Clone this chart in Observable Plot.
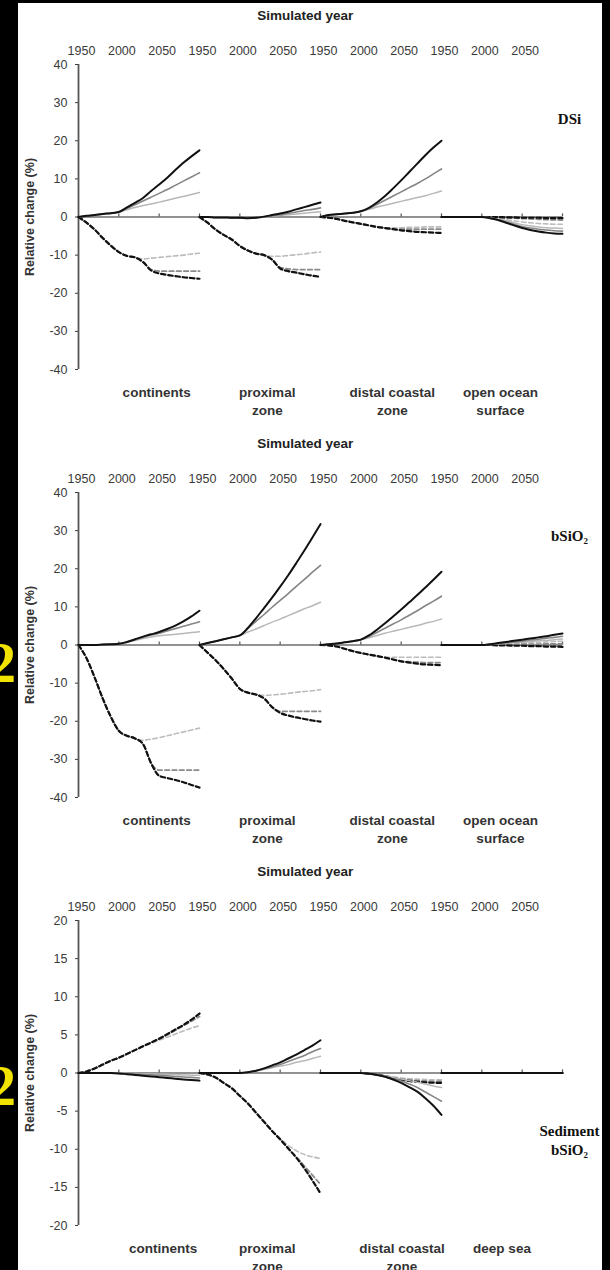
<!DOCTYPE html>
<html>
<head>
<meta charset="utf-8">
<script src="https://cdn.jsdelivr.net/npm/d3@7"></script>
<script src="https://cdn.jsdelivr.net/npm/@observablehq/plot@0.6"></script>
<style>
  html, body { margin: 0; padding: 0; background: #000; }
  body { position: relative; width: 610px; height: 1270px; overflow: hidden; font-family: "Liberation Sans", Arial, sans-serif; }
  #sheet { position: absolute; left: 18px; top: 3px; width: 584px; height: 1267px; background: #fff; }
  .panel { position: absolute; left: 0; width: 610px; }
  .edge { position: absolute; color: #f2e200; font: bold 56px/56px "Liberation Serif", serif; }
</style>
</head>
<body>
<div id="sheet"></div>
<div class="edge" style="left:-12px; top:635px">2</div>
<div class="edge" style="left:-12px; top:1058px">2</div>
<div class="panel" id="p1" style="top:0px"></div>
<div class="panel" id="p2" style="top:428px"></div>
<div class="panel" id="p3" style="top:856px"></div>
<script>
// Simulated years (one value per decade)
const years = [1950, 1960, 1970, 1980, 1990, 2000, 2010, 2020, 2030, 2040, 2050, 2060, 2070, 2080, 2090, 2100];
const yearTicks = [1950, 2000, 2050];

// Reservoir compartments
const waterZones = ["continents", "proximal zone", "distal coastal zone", "open ocean surface"];
const sedimentZones = ["continents", "proximal zone", "distal coastal zone", "deep sea"];
const waterZoneLabels = ["continents", "proximal\nzone", "distal coastal\nzone", "open ocean\nsurface"];
const sedimentZoneLabels = ["continents", "proximal\nzone", "distal coastal\nzone", "deep sea"];
// label position along each compartment's time axis
const waterLabelYears = [2047, 2034, 2039, 2023];
const sedimentLabelYears = [2055, 2034, 2051, 2025];

// Series order: solid light, solid grey, solid black, dashed light, dashed grey, dashed black
const seriesColor = ["#b8b8b8", "#858585", "#111111", "#bcbcbc", "#8a8a8a", "#111111"];
const seriesWidth = [1.5, 1.6, 2, 1.6, 1.8, 2.2];
const seriesDashed = [false, false, false, true, true, true];
const drawOrder = [3, 4, 5, 0, 1, 2];

// Dissolved silica (DSi), relative change (%)
const dsiContinents = [
  [0, 0.3, 0.5, 0.8, 1.0, 1.3, 1.9, 2.5, 3.0, 3.4, 3.9, 4.4, 4.9, 5.4, 5.9, 6.4],
  [0, 0.3, 0.5, 0.8, 1.0, 1.3, 2.2, 3.2, 4.2, 5.2, 6.2, 7.2, 8.3, 9.4, 10.5, 11.6],
  [0, 0.3, 0.5, 0.8, 1.0, 1.3, 2.5, 3.7, 5.0, 6.8, 8.5, 10.3, 12.3, 14.2, 15.9, 17.5],
  [0, -1.5, -3.3, -5.5, -7.5, -9.2, -10.2, -10.6, -11.0, -10.8, -10.6, -10.4, -10.2, -10.0, -9.7, -9.5],
  [0, -1.5, -3.3, -5.5, -7.5, -9.2, -10.2, -10.6, -11.8, -13.8, -14.2, -14.2, -14.2, -14.2, -14.2, -14.2],
  [0, -1.5, -3.3, -5.5, -7.5, -9.2, -10.2, -10.6, -11.8, -14.0, -14.8, -15.2, -15.5, -15.8, -16.0, -16.2]
];
const dsiProximal = [
  [0, 0, -0.1, -0.1, -0.2, -0.2, -0.3, -0.2, 0.0, 0.2, 0.4, 0.6, 0.8, 1.0, 1.2, 1.4],
  [0, 0, -0.1, -0.1, -0.2, -0.2, -0.3, -0.2, 0.0, 0.3, 0.6, 0.9, 1.3, 1.7, 2.0, 2.4],
  [0, 0, -0.1, -0.1, -0.2, -0.2, -0.3, -0.2, 0.1, 0.5, 0.9, 1.4, 2.0, 2.6, 3.2, 3.8],
  [0, -1.5, -3.3, -4.7, -5.9, -7.6, -8.8, -9.6, -10.0, -10.3, -10.3, -10.1, -9.9, -9.7, -9.4, -9.2],
  [0, -1.5, -3.3, -4.7, -5.9, -7.6, -8.8, -9.6, -10.0, -11.2, -13.2, -13.6, -13.8, -13.8, -13.8, -13.8],
  [0, -1.5, -3.3, -4.7, -5.9, -7.6, -8.8, -9.6, -10.0, -11.2, -13.5, -14.2, -14.6, -15.0, -15.4, -15.7]
];
const dsiDistal = [
  [0, 0.5, 0.7, 0.9, 1.1, 1.5, 2.0, 2.6, 3.1, 3.6, 4.1, 4.6, 5.1, 5.6, 6.2, 6.8],
  [0, 0.5, 0.7, 0.9, 1.1, 1.5, 2.2, 3.3, 4.4, 5.5, 6.6, 7.7, 8.8, 10.0, 11.3, 12.6],
  [0, 0.5, 0.7, 0.9, 1.1, 1.5, 2.4, 3.8, 5.5, 7.5, 9.6, 11.8, 14.0, 16.2, 18.2, 20.0],
  [0, -0.2, -0.5, -1.0, -1.4, -1.8, -2.2, -2.6, -2.9, -2.8, -2.8, -2.7, -2.7, -2.6, -2.6, -2.6],
  [0, -0.2, -0.5, -1.0, -1.4, -1.8, -2.2, -2.6, -2.9, -3.2, -3.2, -3.2, -3.2, -3.2, -3.2, -3.2],
  [0, -0.2, -0.5, -1.0, -1.4, -1.8, -2.2, -2.6, -2.9, -3.2, -3.5, -3.7, -3.9, -4.0, -4.1, -4.2]
];
const dsiOcean = [
  [0, 0, 0, 0, 0, 0, -0.2, -0.6, -1.0, -1.5, -2.0, -2.3, -2.6, -2.8, -2.9, -3.0],
  [0, 0, 0, 0, 0, 0, -0.3, -0.7, -1.3, -1.9, -2.5, -2.9, -3.2, -3.4, -3.6, -3.7],
  [0, 0, 0, 0, 0, 0, -0.3, -0.8, -1.5, -2.2, -2.9, -3.4, -3.8, -4.1, -4.3, -4.4],
  [0, 0, 0, 0, 0, 0, -0.1, -0.4, -0.7, -1.0, -1.3, -1.5, -1.7, -1.8, -1.9, -1.9],
  [0, 0, 0, 0, 0, 0, 0, -0.1, -0.2, -0.3, -0.4, -0.5, -0.6, -0.7, -0.75, -0.8],
  [0, 0, 0, 0, 0, 0, 0, 0, -0.1, -0.1, -0.2, -0.2, -0.2, -0.3, -0.3, -0.3]
];

// Biogenic silica (bSiO2) in the water column, relative change (%)
const bsiContinents = [
  [0, 0, 0, 0.1, 0.2, 0.3, 0.7, 1.2, 1.7, 2.1, 2.4, 2.6, 2.8, 3.0, 3.3, 3.5],
  [0, 0, 0, 0.1, 0.2, 0.3, 0.8, 1.4, 2.0, 2.6, 3.1, 3.7, 4.3, 4.9, 5.5, 6.1],
  [0, 0, 0, 0.1, 0.2, 0.3, 0.8, 1.5, 2.2, 2.8, 3.4, 4.2, 5.1, 6.2, 7.5, 9.0],
  [0, -3.5, -8.5, -14, -18.8, -22.5, -23.8, -24.5, -25, -24.7, -24.3, -23.8, -23.3, -22.8, -22.3, -21.8],
  [0, -3.5, -8.5, -14, -18.8, -22.5, -23.8, -24.5, -26, -31, -32.8, -32.8, -32.8, -32.8, -32.8, -32.8],
  [0, -3.5, -8.5, -14, -18.8, -22.5, -23.8, -24.5, -26, -31, -34.3, -34.9, -35.4, -36, -36.7, -37.4]
];
const bsiProximal = [
  [0, 0.5, 1.0, 1.5, 2.0, 2.5, 3.4, 4.2, 5.1, 6.0, 6.8, 7.7, 8.6, 9.5, 10.3, 11.2],
  [0, 0.5, 1.0, 1.5, 2.0, 2.5, 4.3, 6.2, 8.0, 9.9, 11.7, 13.5, 15.4, 17.2, 19.1, 20.9],
  [0, 0.5, 1.0, 1.5, 2.0, 2.5, 4.5, 7.0, 9.7, 12.4, 15.3, 18.3, 21.5, 24.8, 28.2, 31.7],
  [0, -2.0, -4.0, -6.3, -8.8, -11.5, -12.5, -13.0, -13.2, -13.1, -12.9, -12.7, -12.4, -12.2, -12.0, -11.7],
  [0, -2.0, -4.0, -6.3, -8.8, -11.5, -12.5, -13.0, -14.0, -16.3, -17.4, -17.4, -17.4, -17.4, -17.4, -17.4],
  [0, -2.0, -4.0, -6.3, -8.8, -11.5, -12.5, -13.0, -14.0, -16.3, -17.8, -18.5, -19.0, -19.4, -19.8, -20.1]
];
const bsiDistal = [
  [0, 0.2, 0.4, 0.7, 1.0, 1.4, 1.9, 2.5, 3.1, 3.6, 4.1, 4.6, 5.1, 5.7, 6.2, 6.8],
  [0, 0.2, 0.4, 0.7, 1.0, 1.4, 2.2, 3.3, 4.4, 5.5, 6.6, 7.8, 9.0, 10.3, 11.5, 12.8],
  [0, 0.2, 0.4, 0.7, 1.0, 1.4, 2.5, 4.0, 5.7, 7.5, 9.3, 11.2, 13.1, 15.1, 17.1, 19.2],
  [0, -0.1, -0.4, -1.0, -1.6, -2.1, -2.5, -2.9, -3.2, -3.2, -3.2, -3.2, -3.2, -3.2, -3.2, -3.2],
  [0, -0.1, -0.4, -1.0, -1.6, -2.1, -2.5, -2.9, -3.3, -3.8, -4.2, -4.4, -4.5, -4.6, -4.6, -4.6],
  [0, -0.1, -0.4, -1.0, -1.6, -2.1, -2.5, -2.9, -3.3, -3.8, -4.3, -4.6, -4.9, -5.1, -5.2, -5.3]
];
const bsiOcean = [
  [0, 0, 0, 0, 0, 0, 0.1, 0.3, 0.4, 0.6, 0.7, 0.9, 1.1, 1.2, 1.4, 1.6],
  [0, 0, 0, 0, 0, 0, 0.15, 0.4, 0.6, 0.8, 1.0, 1.3, 1.5, 1.8, 2.0, 2.3],
  [0, 0, 0, 0, 0, 0, 0.2, 0.5, 0.8, 1.1, 1.4, 1.7, 2.0, 2.3, 2.7, 3.0],
  [0, 0, 0, 0, 0, 0, 0.1, 0.2, 0.3, 0.4, 0.5, 0.6, 0.7, 0.8, 0.9, 1.0],
  [0, 0, 0, 0, 0, 0, 0, 0.1, 0.1, 0.1, 0.2, 0.2, 0.2, 0.3, 0.3, 0.3],
  [0, 0, 0, 0, 0, 0, 0, -0.1, -0.1, -0.2, -0.2, -0.3, -0.3, -0.4, -0.4, -0.5]
];

// Sediment bSiO2, relative change (%)
const sedContinents = [
  [0, 0, 0, 0, 0, -0.02, -0.05, -0.07, -0.1, -0.12, -0.15, -0.18, -0.21, -0.25, -0.28, -0.3],
  [0, 0, 0, 0, 0, -0.05, -0.1, -0.15, -0.2, -0.25, -0.3, -0.38, -0.45, -0.52, -0.58, -0.65],
  [0, 0, 0, 0, 0, -0.05, -0.15, -0.25, -0.35, -0.45, -0.55, -0.65, -0.75, -0.85, -0.93, -1.0],
  [0, 0.2, 0.6, 1.1, 1.6, 2.0, 2.5, 3.0, 3.5, 3.9, 4.3, 4.7, 5.1, 5.5, 5.9, 6.2],
  [0, 0.2, 0.6, 1.1, 1.6, 2.0, 2.5, 3.0, 3.5, 4.0, 4.5, 5.0, 5.6, 6.2, 6.8, 7.4],
  [0, 0.2, 0.6, 1.1, 1.6, 2.0, 2.5, 3.0, 3.5, 4.0, 4.5, 5.1, 5.7, 6.3, 7.0, 7.8]
];
const sedProximal = [
  [0, 0, 0, 0, 0, 0, 0.1, 0.25, 0.45, 0.7, 0.9, 1.1, 1.4, 1.6, 1.9, 2.2],
  [0, 0, 0, 0, 0, 0, 0.1, 0.3, 0.55, 0.8, 1.1, 1.5, 1.9, 2.3, 2.8, 3.2],
  [0, 0, 0, 0, 0, 0, 0.1, 0.3, 0.6, 1.0, 1.4, 1.9, 2.4, 3.0, 3.6, 4.3],
  [0, -0.2, -0.6, -1.3, -2.0, -3.0, -4.0, -5.2, -6.4, -7.6, -8.6, -9.5, -10.2, -10.7, -11.0, -11.2],
  [0, -0.2, -0.6, -1.3, -2.0, -3.0, -4.0, -5.2, -6.4, -7.6, -8.7, -9.9, -11.0, -12.2, -13.4, -14.6],
  [0, -0.2, -0.6, -1.3, -2.0, -3.0, -4.0, -5.2, -6.4, -7.6, -8.7, -9.9, -11.1, -12.5, -14.1, -15.8]
];
const sedDistal = [
  [0, 0, 0, 0, 0, 0, -0.1, -0.2, -0.4, -0.6, -0.8, -1.0, -1.2, -1.45, -1.7, -1.9],
  [0, 0, 0, 0, 0, 0, -0.1, -0.22, -0.45, -0.75, -1.05, -1.45, -1.9, -2.5, -3.1, -3.7],
  [0, 0, 0, 0, 0, 0, -0.1, -0.25, -0.5, -0.85, -1.3, -1.85, -2.45, -3.3, -4.3, -5.5],
  [0, 0, 0, 0, 0, 0, -0.1, -0.2, -0.35, -0.5, -0.65, -0.75, -0.8, -0.85, -0.9, -0.9],
  [0, 0, 0, 0, 0, 0, -0.1, -0.2, -0.4, -0.6, -0.8, -0.9, -1.0, -1.05, -1.1, -1.1],
  [0, 0, 0, 0, 0, 0, -0.1, -0.2, -0.45, -0.7, -0.9, -1.05, -1.15, -1.22, -1.28, -1.3]
];
const sedDeepSea = [
  [0, 0, 0, 0, 0, 0, 0, 0, 0, 0, 0, 0, 0, 0, 0, 0],
  [0, 0, 0, 0, 0, 0, 0, 0, 0, 0, 0, 0, 0, 0, 0, 0],
  [0, 0, 0, 0, 0, 0, 0, 0, 0, 0, 0, 0, 0, 0, 0, 0],
  [0, 0, 0, 0, 0, 0, 0, 0, 0, 0, 0, 0, 0, 0, 0, 0],
  [0, 0, 0, 0, 0, 0, 0, 0, 0, 0, 0, 0, 0, 0, 0, 0],
  [0, 0, 0, 0, 0, 0, 0, 0, 0, 0, 0, 0, 0, 0, 0, 0]
];

const sansFont = "'Liberation Sans', Arial, sans-serif";
const serifFont = "'Liberation Serif', 'Times New Roman', serif";

// Flatten compartment blocks into tidy rows
function toRows(zones, blocks) {
  const out = [];
  blocks.forEach((block, zi) =>
    block.forEach((values, si) =>
      values.forEach((v, yi) => out.push({zone: zones[zi], series: si, year: years[yi], value: v}))));
  return out;
}

function panel({zones, zoneLabels, labelYears, blocks, yDomain, yStep, tickLen, sideText, sideY}) {
  const rows = toRows(zones, blocks);
  const yTicks = d3.range(yDomain[0], yDomain[1] + yStep / 2, yStep);
  const zeroTicks = zones.flatMap((zone) => [2000, 2050, 2100].map((year) => ({zone, year})));
  const lineMarks = drawOrder.map((s) =>
    Plot.line(rows.filter((d) => d.series === s), {
      fx: "zone", x: "year", y: "value",
      stroke: seriesColor[s], strokeWidth: seriesWidth[s],
      strokeDasharray: seriesDashed[s] ? "4.5,2.8" : null,
      curve: "monotone-x"
    }));
  return Plot.plot({
    width: 610, height: 428,
    marginLeft: 78, marginRight: 48, marginTop: 64, marginBottom: 59,
    style: {background: "transparent", fontFamily: sansFont, fontSize: "12.5px", color: "#3a3a3a"},
    fx: {domain: zones, padding: 0, axis: null},
    x: {domain: [1950, 2100]},
    y: {domain: yDomain},
    marks: [
      // year labels above each compartment (no tick lines)
      Plot.axisX({anchor: "top", ticks: yearTicks, tickSize: 0, tickPadding: 10, dx: 3,
        tickFormat: (d) => String(d), label: null}),
      Plot.axisY({ticks: yTicks, tickSize: 3, tickPadding: 8, tickFormat: (d) => String(d), label: null}),
      // vertical value axis line
      Plot.ruleX([{zone: zones[0], year: 1950}], {fx: "zone", x: "year", stroke: "#555", strokeWidth: 1.8}),
      // zero baseline with year ticks
      Plot.ruleY([0], {stroke: "#6e6e6e", strokeWidth: 1.6}),
      Plot.ruleX(zeroTicks, {fx: "zone", x: "year", y1: 0, y2: tickLen, stroke: "#555", strokeWidth: 1.2}),
      ...lineMarks,
      // compartment names under each panel
      Plot.text(zones.map((zone, i) => ({zone, year: labelYears[i], label: zoneLabels[i]})), {
        fx: "zone", x: "year", text: "label", frameAnchor: "bottom", dy: 15,
        lineAnchor: "top", lineHeight: 1.31, fontSize: 13.5, fontWeight: "bold", fill: "#333"
      }),
      // shared time-axis title
      Plot.text([{zone: zones[1], year: 2081}], {
        fx: "zone", x: "year", text: () => "Simulated year", frameAnchor: "top", dy: -54,
        fontSize: 13.5, fontWeight: "bold", fill: "#222"
      }),
      // value axis title
      Plot.text([{zone: zones[0]}], {
        fx: "zone", text: () => "Relative change (%)", frameAnchor: "left", textAnchor: "middle",
        dx: -49, rotate: -90, fontSize: 12.5, fontWeight: "bold", fill: "#333"
      }),
      // variable name on the right
      Plot.text([{zone: zones[3], year: 2100, value: sideY}], {
        fx: "zone", x: "year", y: "value", text: () => sideText, dx: 7,
        lineHeight: 1.3, fontFamily: serifFont, fontSize: 15, fontWeight: "bold", fill: "#111"
      })
    ]
  });
}

document.getElementById("p1").append(panel({
  zones: waterZones, zoneLabels: waterZoneLabels, labelYears: waterLabelYears,
  blocks: [dsiContinents, dsiProximal, dsiDistal, dsiOcean],
  yDomain: [-40, 40], yStep: 10, tickLen: 0.8, sideText: "DSi", sideY: 26
}));
document.getElementById("p2").append(panel({
  zones: waterZones, zoneLabels: waterZoneLabels, labelYears: waterLabelYears,
  blocks: [bsiContinents, bsiProximal, bsiDistal, bsiOcean],
  yDomain: [-40, 40], yStep: 10, tickLen: 0.8, sideText: "bSiO₂", sideY: 29
}));
document.getElementById("p3").append(panel({
  zones: sedimentZones, zoneLabels: sedimentZoneLabels, labelYears: sedimentLabelYears,
  blocks: [sedContinents, sedProximal, sedDistal, sedDeepSea],
  yDomain: [-20, 20], yStep: 5, tickLen: 0.4, sideText: "Sediment\nbSiO₂", sideY: -8.7
}));
</script>
</body>
</html>
